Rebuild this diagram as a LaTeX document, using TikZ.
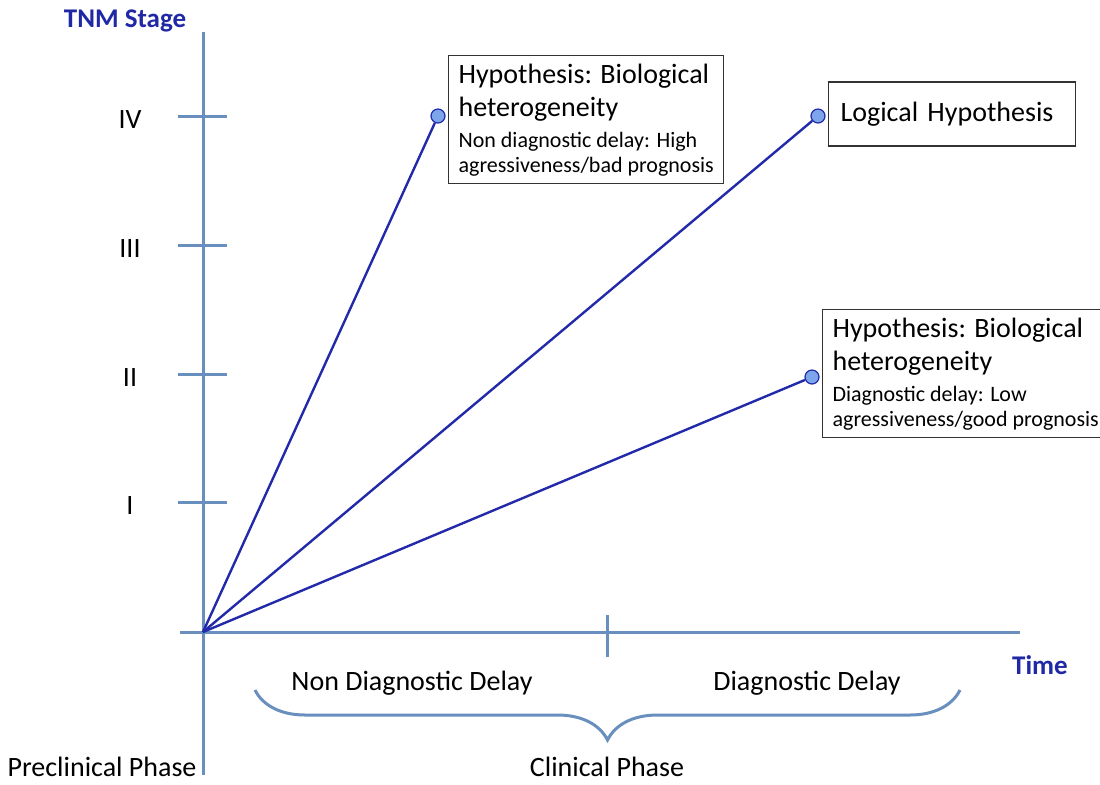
\documentclass[tikz,border=0pt]{standalone}
\usepackage{fontspec}
\setmainfont{Carlito}
\usetikzlibrary{positioning,decorations.pathreplacing}
\definecolor{axisblue}{RGB}{104,143,190}
\definecolor{lineblue}{RGB}{35,42,170}
\definecolor{dotblue}{RGB}{125,165,235}
\definecolor{textblue}{RGB}{32,40,165}
\newcommand{\bigtxt}{\fontsize{14}{16.5}\selectfont}
\newcommand{\detail}{\fontsize{11}{12.5}\selectfont}

\begin{document}
\begin{tikzpicture}[x=0.5pt,y=-0.5pt,
  axis/.style={axisblue,line width=1.5pt},
  growth/.style={lineblue,line width=1.2pt},
  dot/.style={circle,draw=lineblue,fill=dotblue,line width=0.6pt,inner sep=0pt,minimum size=7pt},
  hypbox/.style={draw=black!80,line width=0.6pt,align=left,anchor=north west,inner xsep=5pt,inner ysep=4pt,font=\bigtxt},
  plain/.style={font=\bigtxt},
  axislabel/.style={font=\bfseries\fontsize{13.5}{15}\selectfont,textblue}]

\useasboundingbox (0,0) rectangle (1100,784);

% axes
\coordinate (o) at (203,632);
\coordinate (ytop) at (203,32);
\coordinate (ybot) at (203,775);
\coordinate (xleft) at (180,632);
\coordinate (xright) at (1020,632);
\draw[axis] (ytop) -- (ybot);
\draw[axis] (xleft) -- (xright);

% stages
\foreach \y/\lab in {116/IV,245/III,374/II,502/I}{
  \draw[axis] (178,\y) -- (227,\y);
  \node[plain] (st\lab) at (130,\y+4) {\lab};
}
\draw[axis] (607,615) -- (607,657);

\node[axislabel] (tnm) at (125,21) {TNM Stage};
\node[axislabel] (time) at (1040,665) {Time};

% growth lines
\node[dot] (pA) at (438,116) {};
\node[dot] (pB) at (818,116) {};
\node[dot] (pC) at (812,377) {};
\draw[growth] (o) -- (pA);
\draw[growth] (o) -- (pB);
\draw[growth] (o) -- (pC);

% hypotheses
\node[hypbox] (hypA) at (448,55) {Hypothesis: Biological\\heterogeneity\\[-1pt]
  \detail Non diagnostic delay: High\\[-4pt]\detail agressiveness/bad prognosis};
\node[hypbox,anchor=west,inner xsep=6pt,text width=111.5pt,minimum height=32pt] (hypB) at (828,114) {Logical Hypothesis};
\node[hypbox] (hypC) at (822,309) {Hypothesis: Biological\\heterogeneity\\[-1pt]
  \detail Diagnostic delay: Low\\[-4pt]\detail agressiveness/good prognosis};

% phases
\node[plain] (ndd) at (412,683) {Non Diagnostic Delay};
\node[plain] (dd) at (807,683) {Diagnostic Delay};
\draw[axis,decorate,decoration={brace,amplitude=25pt}] (960,690) -- (255,690);
\node[plain] (clin) at (607,767) {Clinical Phase};
\node[plain] (precl) at (102,767) {Preclinical Phase};

\end{tikzpicture}
\end{document}
